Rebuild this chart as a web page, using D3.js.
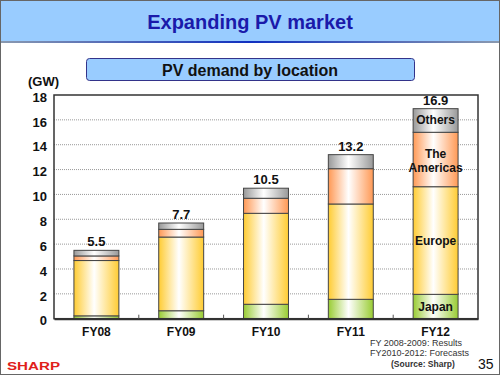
<!DOCTYPE html>
<html><head><meta charset="utf-8">
<script src="https://cdn.jsdelivr.net/npm/d3@7"></script>
<style>body{margin:0;background:#fff}svg{display:block;font-family:Arial,"Liberation Sans",sans-serif}</style>
</head><body><svg id="c" width="500" height="375"></svg>
<script>
const categories = ["FY08","FY09","FY10","FY11","FY12"];
const japan    = [0.23, 0.64, 1.16, 1.56, 1.96];
const europe   = [4.45, 5.93, 7.32, 7.67, 8.66];
const americas = [0.37, 0.62, 1.21, 2.84, 4.38];
const others   = [0.45, 0.51, 0.81, 1.13, 1.90];
const totals   = ["5.5","7.7","10.5","13.2","16.9"];
const seriesNames = ["Japan","Europe","The Americas","Others"];
const yTicks = [0,2,4,6,8,10,12,14,16,18];

const svg = d3.select("#c");
const defs = svg.append("defs");
const colors = {"Japan":"#99cc33","Europe":"#ffcc33","The Americas":"#ff9955","Others":"#999999"};
seriesNames.forEach((s,i)=>{
  const g = defs.append("linearGradient").attr("id","g"+i).attr("x1","0").attr("x2","1").attr("y1","0").attr("y2","0");
  g.append("stop").attr("offset","0").attr("stop-color",colors[s]);
  g.append("stop").attr("offset","0.45").attr("stop-color","#ffffff");
  g.append("stop").attr("offset","1").attr("stop-color",colors[s]);
});
const hg = defs.append("linearGradient").attr("id","hl").attr("x1","0").attr("x2","1");
hg.append("stop").attr("offset","0").attr("stop-color","#8a9ab0");
hg.append("stop").attr("offset","0.5").attr("stop-color","#1030c0");
hg.append("stop").attr("offset","1").attr("stop-color","#8a9ab0");

// header
svg.append("rect").attr("x",0).attr("y",0).attr("width",500).attr("height",42).attr("fill","#99ccff");
svg.append("rect").attr("x",0).attr("y",41).attr("width",500).attr("height",2).attr("fill","url(#hl)");
svg.append("text").attr("x",250).attr("y",29).attr("text-anchor","middle").attr("font-size",20).attr("font-weight","bold").attr("fill","#1a1aaa").text("Expanding PV market");
svg.append("rect").attr("x",0.5).attr("y",0.5).attr("width",499).attr("height",374).attr("fill","none").attr("stroke","#666");

// subtitle box
svg.append("rect").attr("x",86.5).attr("y",58.5).attr("width",328).attr("height",22).attr("rx",3).attr("fill","#99ccff").attr("stroke","#33338a");
svg.append("text").attr("x",250).attr("y",75.5).attr("text-anchor","middle").attr("font-size",16).attr("font-weight","bold").attr("fill","#111").text("PV demand by location");
svg.append("text").attr("x",28).attr("y",86).attr("font-size",13).attr("font-weight","bold").attr("fill","#111").text("(GW)");

const L=54, R=478, T=95, B=318.7;
const x = d3.scaleBand().domain(categories).range([L,R]).paddingInner(0.47).paddingOuter(0.235);
const y = d3.scaleLinear().domain([0,18]).range([B,T]);

// gridlines
svg.append("g").selectAll("line").data(yTicks.filter(d=>d>0&&d<18)).join("line")
  .attr("x1",L).attr("x2",R).attr("y1",d=>y(d)).attr("y2",d=>y(d))
  .attr("stroke","#999").attr("stroke-dasharray","1,1");

// y axis labels
const ya = svg.append("g").attr("transform",`translate(${L},2)`).call(d3.axisLeft(y).tickValues(yTicks).tickSize(0).tickPadding(7));
ya.select(".domain").remove();
ya.selectAll("text").attr("font-size",13).attr("font-weight","bold").attr("fill","#111").attr("font-family","Arial, sans-serif");

// stacks
const rows = categories.map((c,i)=>({cat:c,"Japan":japan[i],"Europe":europe[i],"The Americas":americas[i],"Others":others[i]}));
const stack = d3.stack().keys(seriesNames)(rows);
stack.forEach((layer,li)=>{
  svg.append("g").selectAll("rect").data(layer).join("rect")
    .attr("x",d=>x(d.data.cat)).attr("width",x.bandwidth())
    .attr("y",d=>y(d[1])).attr("height",d=>y(d[0])-y(d[1]))
    .attr("fill",`url(#g${li})`).attr("stroke","#444").attr("stroke-width",1);
});
// totals
svg.append("g").selectAll("text").data(categories).join("text")
  .attr("x",d=>x(d)+x.bandwidth()/2).attr("y",(d,i)=>y(japan[i]+europe[i]+americas[i]+others[i])-4)
  .attr("text-anchor","middle").attr("font-size",13).attr("font-weight","bold").attr("fill","#111").text((d,i)=>totals[i]);

// segment labels on last bar
const last = categories.length-1;
const cx = x(categories[last])+x.bandwidth()/2;
stack.forEach((layer,li)=>{
  const d = layer[last];
  const mid = y((d[0]+d[1])/2);
  const name = seriesNames[li];
  const t = svg.append("text").attr("x",cx).attr("text-anchor","middle").attr("font-size",12).attr("font-weight","bold").attr("fill","#111");
  if(name==="The Americas"){
    t.append("tspan").attr("x",cx).attr("y",mid-2).text("The");
    t.append("tspan").attr("x",cx).attr("y",mid+12).text("Americas");
  } else {
    t.attr("y",mid+4).text(name);
  }
});

// frame
svg.append("rect").attr("x",L).attr("y",T).attr("width",R-L).attr("height",B-T).attr("fill","none").attr("stroke","#333").attr("stroke-width",1.5);
// x axis
const xa = svg.append("g").attr("transform",`translate(0,${B})`).call(d3.axisBottom(x).tickSize(0).tickPadding(9));
xa.select(".domain").attr("stroke","#333").attr("stroke-width",2);
xa.selectAll("text").attr("font-size",12).attr("font-weight","bold").attr("fill","#111").attr("font-family","Arial, sans-serif");
svg.append("g").selectAll("line").data(categories.slice(1)).join("line")
  .attr("x1",d=>x(d)-x.step()*x.paddingInner()/2).attr("x2",d=>x(d)-x.step()*x.paddingInner()/2)
  .attr("y1",B).attr("y2",B-4).attr("stroke","#555");

// footnotes
svg.append("text").attr("x",370).attr("y",346).attr("font-size",9).attr("fill","#333").text("FY 2008-2009: Results");
svg.append("text").attr("x",370).attr("y",356).attr("font-size",9).attr("fill","#333").text("FY2010-2012: Forecasts");
svg.append("text").attr("x",391).attr("y",366.5).attr("font-size",8.5).attr("font-weight","bold").attr("fill","#333").text("(Source: Sharp)");
svg.append("text").attr("x",478).attr("y",369).attr("font-size",14).attr("fill","#111").text("35");
svg.append("text").attr("x",7).attr("y",370).attr("font-size",10).attr("font-weight","900").attr("fill","#e0201a").attr("textLength",53).attr("lengthAdjust","spacingAndGlyphs").text("SHARP");
</script></body></html>
